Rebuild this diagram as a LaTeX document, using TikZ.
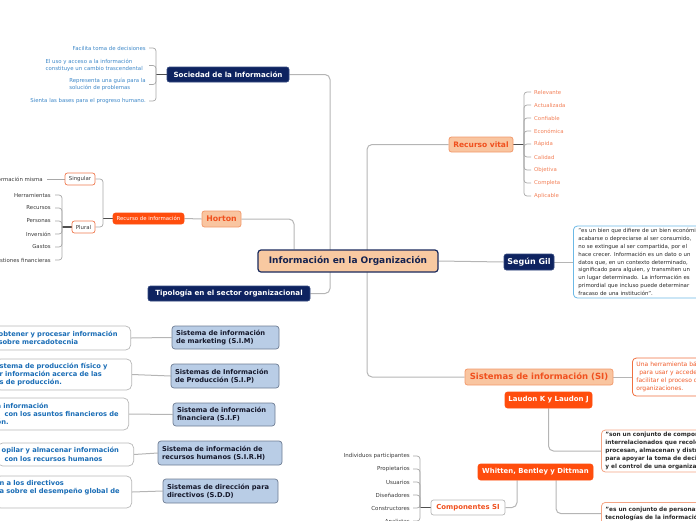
\documentclass[tikz,border=0pt]{standalone}
\usepackage{fontspec}
\setmainfont{DejaVu Sans}
\usetikzlibrary{backgrounds}
\definecolor{navy}{HTML}{0E2360}
\definecolor{navyedge}{HTML}{34497F}
\definecolor{cfill}{HTML}{F8C9A1}
\definecolor{cedge}{HTML}{1A2A5C}
\definecolor{ctext}{HTML}{14224F}
\definecolor{peach}{HTML}{F9C5A0}
\definecolor{peachedge}{HTML}{F29A6C}
\definecolor{orred}{HTML}{F0501E}
\definecolor{redfill}{HTML}{FF4D0D}
\definecolor{woedge}{HTML}{F07A50}
\definecolor{sysfill}{HTML}{B9CDE6}
\definecolor{sysedge}{HTML}{6E7D93}
\definecolor{systext}{HTML}{15182B}
\definecolor{descedge}{HTML}{B8B8B8}
\definecolor{descblue}{HTML}{1A6DB6}
\definecolor{socblue}{HTML}{3E88C8}
\definecolor{leaforange}{HTML}{F28058}
\definecolor{conngray}{HTML}{B5B5B5}
\definecolor{brkgray}{HTML}{A8A8A8}
\definecolor{stubgray}{HTML}{4F4F4F}
\definecolor{qoneedge}{HTML}{6CB9E6}
\definecolor{qtwoedge}{HTML}{F4A585}
\definecolor{sidedge}{HTML}{F07040}
\definecolor{sidtext}{HTML}{F05A28}
\definecolor{qtext}{HTML}{2A2A2A}
\definecolor{leafdark}{HTML}{3A3A3A}
\begin{document}
\begin{tikzpicture}[x=1pt,y=-1pt,
  boxbase/.style={rounded corners=2.5pt, inner sep=0pt, align=center},
  central/.style={boxbase, fill=cfill, draw=cedge, line width=1.2pt, text=ctext,
    rounded corners=3pt, font=\bfseries\fontsize{9}{10}\selectfont},
  navybox/.style={boxbase, fill=navy, draw=navyedge, line width=0.7pt, text=white,
    font=\bfseries\fontsize{7.1}{8}\selectfont},
  peachbox/.style={boxbase, fill=peach, draw=peachedge, line width=0.8pt, text=orred},
  redbox/.style={boxbase, fill=redfill, draw=redfill, line width=0.6pt, text=white},
  wobox/.style={boxbase, fill=white, draw=woedge, line width=0.7pt, text=leafdark,
    font=\fontsize{5.4}{6.5}\selectfont},
  sysbox/.style={rounded corners=3pt, fill=sysfill, draw=sysedge, line width=0.7pt,
    text=systext, font=\bfseries\fontsize{6.7}{8.2}\selectfont, align=left,
    inner xsep=4pt, inner ysep=0pt},
  descbox/.style={rounded corners=5pt, fill=white, draw=descedge, line width=0.7pt,
    text=descblue, font=\bfseries\fontsize{6.7}{8.3}\selectfont, align=left,
    inner xsep=4pt, inner ysep=0pt, text width=128pt, anchor=east},
  leaf/.style={inner sep=0pt, font=\fontsize{5.4}{7}\selectfont},
  conn/.style={draw=conngray, line width=1pt, rounded corners=5pt},
  brk/.style={draw=brkgray, line width=0.7pt, rounded corners=3pt},
  stub/.style={draw=stubgray, line width=1.3pt}
]
\useasboundingbox (0,0) rectangle (696,520);

% ---------- central ----------
\node[central, minimum width=180pt, minimum height=22pt] (c) at (348,261) {Información en la Organización};

% ---------- Sociedad de la Informacion ----------
\node[navybox, minimum width=122pt, minimum height=15pt] (soc) at (228,74.5) {Sociedad de la Información};
\node[leaf, text=socblue, anchor=east] (s1) at (146,48) {Facilita toma de decisiones};
\node[leaf, text=socblue, anchor=east, align=left] (s2) at (143,65.5) {El uso y acceso a la información\\constituye un cambio trascendental};
\node[leaf, text=socblue, anchor=east, align=left] (s3) at (146,84.5) {Representa una guía para la\\solución de problemas};
\node[leaf, text=socblue, anchor=east] (s4) at (146,101) {Sienta las bases para el progreso humano.};
\coordinate (socj) at (156,74.5);

% ---------- Horton ----------
\node[peachbox, minimum width=39pt, minimum height=16pt, font=\bfseries\fontsize{7.8}{9}\selectfont] (hor) at (221.5,219) {Horton};
\node[redbox, minimum width=71pt, minimum height=11pt, font=\fontsize{5.4}{6.5}\selectfont] (rec) at (148.5,218.5) {Recurso de información};
\node[wobox, minimum width=30pt, minimum height=12pt] (sing) at (80,179) {Singular};
\node[wobox, minimum width=23pt, minimum height=12pt] (plur) at (83.5,227) {Plural};
\node[leaf, text=leafdark, anchor=east] (im) at (43,179) {Información misma};
\node[leaf, text=leafdark, anchor=east] (p1) at (51,195) {Herramientas};
\node[leaf, text=leafdark, anchor=east] (p2) at (51,208) {Recursos};
\node[leaf, text=leafdark, anchor=east] (p3) at (51,221) {Personas};
\node[leaf, text=leafdark, anchor=east] (p4) at (51,234) {Inversión};
\node[leaf, text=leafdark, anchor=east] (p5) at (51,247) {Gastos};
\node[leaf, text=leafdark, anchor=east] (p6) at (51,260) {Gestiones financieras};
\coordinate (recj) at (103,218.5);
\coordinate (plj) at (62,227);

% ---------- Tipologia ----------
\node[navybox, minimum width=162pt, minimum height=15pt] (tip) at (229,293.5) {Tipología en el sector organizacional};

\node[sysbox, text width=99pt, minimum height=23pt] (sim) at (225.5,337.5) {Sistema de información\\de marketing (S.I.M)};
\node[sysbox, text width=100pt, minimum height=24pt] (sip) at (225,376) {Sistemas de Información\\de Producción (S.I.P)};
\node[sysbox, text width=94pt, minimum height=23pt] (sif) at (224,414.5) {Sistema de información\\financiera (S.I.F)};
\node[sysbox, text width=116pt, minimum height=24pt] (sirh) at (220,453) {Sistema de información de\\recursos humanos (S.I.R.H)};
\node[sysbox, text width=107pt, minimum height=24pt] (sdd) at (220.5,491) {Sistemas de dirección para\\directivos (S.D.D)};

\node[descbox, minimum height=24pt] (d1) at (131,338) {obtener y procesar información\\sobre mercadotecnia};
\node[descbox, minimum height=31pt] (d2) at (132,374.5) {stema de producción físico y\\r información acerca de las\\s de producción.};
\node[descbox, minimum height=32pt] (d3) at (129,414) {a información\\\hspace*{8pt}con los asuntos financieros de\\ón.};
\node[descbox, minimum height=23pt] (d4) at (134,454.5) {opilar y almacenar información\\\hspace*{3pt}con los recursos humanos};
\node[descbox, minimum height=32pt] (d5) at (132,492) {n a los directivos\\a sobre el desempeño global de\\\strut};

% ---------- Recurso vital ----------
\node[peachbox, minimum width=64pt, minimum height=15pt, font=\bfseries\fontsize{7.5}{9}\selectfont] (rv) at (481,144.5) {Recurso vital};
\coordinate (rvj) at (524,144.5);
\node[leaf, text=leaforange, anchor=west] (v1) at (534,92) {Relevante};
\node[leaf, text=leaforange, anchor=west] (v2) at (534,105) {Actualizada};
\node[leaf, text=leaforange, anchor=west] (v3) at (534,118) {Confiable};
\node[leaf, text=leaforange, anchor=west] (v4) at (534,131) {Económica};
\node[leaf, text=leaforange, anchor=west] (v5) at (534,144) {Rápida};
\node[leaf, text=leaforange, anchor=west] (v6) at (534,157) {Calidad};
\node[leaf, text=leaforange, anchor=west] (v7) at (534,170) {Objetiva};
\node[leaf, text=leaforange, anchor=west] (v8) at (534,183) {Completa};
\node[leaf, text=leaforange, anchor=west] (v9) at (534,196) {Aplicable};

% ---------- Segun Gil ----------
\node[navybox, minimum width=50pt, minimum height=16pt, font=\bfseries\fontsize{8}{9}\selectfont] (gil) at (529,262) {Según Gil};
\node[rounded corners=4pt, fill=white, draw=qoneedge, line width=0.8pt, text=qtext,
  font=\fontsize{5.4}{7.8}\selectfont, align=left, inner xsep=5pt, inner ysep=0pt,
  text width=170pt, minimum height=72pt, anchor=west] (q1) at (573,262)
  {"es un bien que difiere de un bien económico\\
   acabarse o depreciarse al ser consumido,\\
   no se extingue al ser compartida, por el\\
   hace crecer. Información es un dato o un\\
   datos que, en un contexto determinado,\\
   significado para alguien, y transmiten un\\
   un lugar determinado. La información es\\
   primordial que incluso puede determinar\\
   fracaso de una institución".};

% ---------- Sistemas de informacion ----------
\node[peachbox, minimum width=148pt, minimum height=16pt, font=\bfseries\fontsize{8.5}{10}\selectfont] (si) at (539,377) {Sistemas de información (SI)};
\node[rounded corners=4pt, fill=white, draw=sidedge, line width=0.8pt, text=sidtext,
  font=\fontsize{6}{8}\selectfont, align=left, inner xsep=4pt, inner ysep=0pt,
  text width=110pt, minimum height=38pt, anchor=west] (sid) at (632,377)
  {Una herramienta básica\\\hspace*{3pt}para usar y acceder\\facilitar el proceso de\\organizaciones.};

\node[redbox, minimum width=87pt, minimum height=16pt, font=\bfseries\fontsize{7}{8}\selectfont] (lau) at (548.5,400) {Laudon K y Laudon J};
\node[rounded corners=4pt, fill=white, draw=qtwoedge, line width=0.8pt, text=qtext,
  font=\bfseries\fontsize{5.8}{7.8}\selectfont, align=left, inner xsep=4pt, inner ysep=0pt,
  text width=150pt, minimum height=42pt, anchor=west] (q2) at (601,451)
  {"son un conjunto de componentes\\interrelacionados que recolectan,\\procesan, almacenan y distribuyen\\para apoyar la toma de decisiones\\y el control de una organización};

\node[redbox, minimum width=115pt, minimum height=16pt, font=\bfseries\fontsize{6.9}{8}\selectfont] (wbd) at (535.5,472) {Whitten, Bentley y Dittman};
\node[rounded corners=4pt, fill=white, draw=qtwoedge, line width=0.8pt, text=qtext,
  font=\bfseries\fontsize{5.8}{7.8}\selectfont, align=left, inner xsep=4pt, inner ysep=4.5pt,
  text width=150pt, anchor=north west] (q3) at (601,502)
  {"es un conjunto de personas\\tecnologías de la información};

\node[boxbase, fill=white, draw=descedge, line width=0.7pt, text=orred, minimum width=74pt,
  minimum height=15pt, font=\bfseries\fontsize{6.9}{8}\selectfont] (comp) at (468,507.5) {Componentes SI};
\coordinate (cj) at (420,507.5);
\node[leaf, text=leafdark, anchor=east, font=\fontsize{5.5}{7}\selectfont] (k1) at (410,456) {Individuos participantes};
\node[leaf, text=leafdark, anchor=east, font=\fontsize{5.5}{7}\selectfont] (k2) at (410,469) {Propietarios};
\node[leaf, text=leafdark, anchor=east, font=\fontsize{5.5}{7}\selectfont] (k3) at (410,482) {Usuarios};
\node[leaf, text=leafdark, anchor=east, font=\fontsize{5.5}{7}\selectfont] (k4) at (410,495) {Diseñadores};
\node[leaf, text=leafdark, anchor=east, font=\fontsize{5.5}{7}\selectfont] (k5) at (410,508) {Constructores};
\node[leaf, text=leafdark, anchor=east, font=\fontsize{5.5}{7}\selectfont] (k6) at (410,521) {Analistas};

% ---------- connectors ----------
\begin{pgfonlayer}{background}
  \draw[conn] ([xshift=-18pt]c.center) |- (soc.east);
  \draw[conn] ([xshift=-18pt]c.center) |- (tip.east);
  \draw[conn] (hor.east) -| ([xshift=-54pt]c.north);
  \draw[conn] ([xshift=19pt]c.center) |- (rv.west);
  \draw[conn] ([xshift=19pt]c.center) |- (si.west);
  \draw[conn] (c.east) -- (gil.west);
  \draw[conn] (gil.east) -- (q1.west);
  \draw[conn] (si.east) -- (sid.west);
  \draw[conn] (lau.south) |- (q2.west);
  \draw[conn] ([xshift=-18.5pt]wbd.south) |- (comp.east);
  \draw[conn] ([xshift=20.5pt]wbd.south) |- (q3.west);
  \draw[conn] (hor.west) -- (rec.east);
  \draw[conn] (d1.east) -- (sim.west);
  \draw[conn] (d2.east) -- (sip.west);
  \draw[conn] (d3.east) -- (sif.west);
  \draw[conn] (d4.east) -- (sirh.west);
  \draw[conn] (d5.east) -- (sdd.west);
  % Sociedad bracket
  \draw[stub] (soc.west) -- (socj);
  \foreach \n in {s1,s3,s4} \draw[brk] (socj) |- ([xshift=3pt]\n.east);
  \draw[brk] (socj) |- ([xshift=6pt]s2.east);
  % Horton bracket
  \draw[stub] (rec.west) -- (recj);
  \draw[brk] (recj) |- (sing.east);
  \draw[brk] (recj) |- (plur.east);
  \draw[brk] (sing.west) -- ([xshift=4pt]im.east);
  \draw[stub] (plur.west) -- (plj);
  \foreach \n in {p1,p2,p3,p4,p5,p6} \draw[brk] (plj) |- ([xshift=4pt]\n.east);
  % Recurso vital bracket
  \draw[stub] (rv.east) -- (rvj);
  \foreach \n in {v1,v2,v3,v4,v5,v6,v7,v8,v9} \draw[brk] (rvj) |- ([xshift=-3pt]\n.west);
  % Componentes bracket
  \draw[stub] (comp.west) -- (cj);
  \foreach \n in {k1,k2,k3,k4,k5,k6} \draw[brk] (cj) |- ([xshift=3pt]\n.east);
\end{pgfonlayer}
\end{tikzpicture}
\end{document}
